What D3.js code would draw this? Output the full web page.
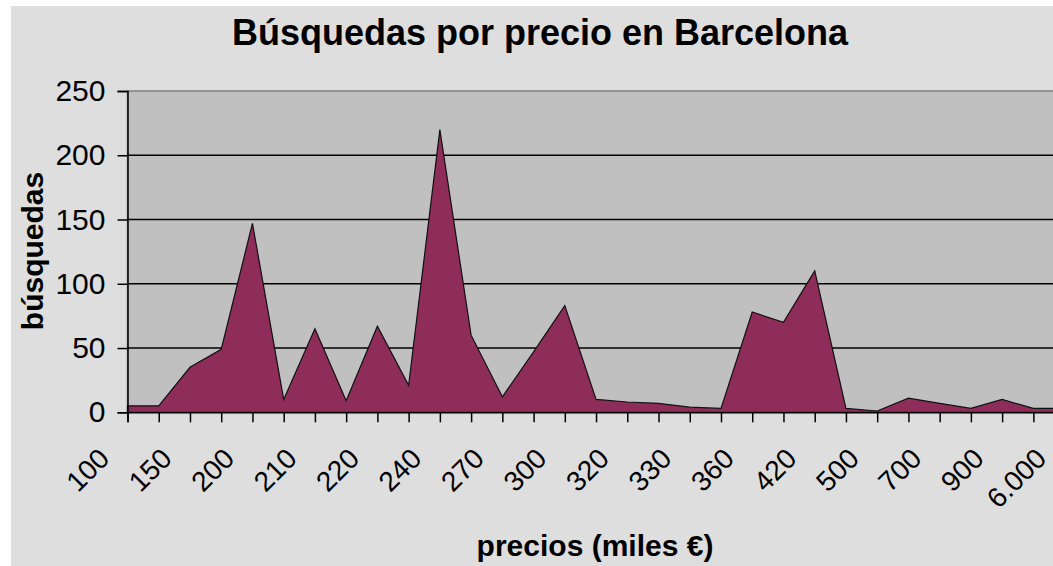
<!DOCTYPE html>
<html>
<head>
<meta charset="utf-8">
<script src="https://cdn.jsdelivr.net/npm/d3@7"></script>
<style>
  html, body { margin: 0; padding: 0; background: #fff; overflow: hidden; }
  text { font-family: "Liberation Sans", Arial, sans-serif; fill: #000; }
</style>
</head>
<body>
<svg id="chart" width="1053" height="566"></svg>
<script>
// busquedas por cada tramo de precio (miles de euros)
const tickLabels = ["100", "150", "200", "210", "220", "240", "270", "300",
                    "320", "330", "360", "420", "500", "700", "900", "6.000"];
const values = [5, 5, 35, 49, 147, 10, 65, 9, 67, 21, 220, 60, 12, 47, 83, 10,
                8, 7, 4, 3, 78, 70, 110, 3, 1, 11, 7, 3, 10, 3, 3];
const yTicks = [0, 50, 100, 150, 200, 250];

const svg = d3.select("#chart");

// fondo gris del grafico (hay un margen blanco arriba y a la izquierda)
svg.append("rect")
  .attr("x", 11).attr("y", 6)
  .attr("width", 1042).attr("height", 560)
  .attr("fill", "#dedede");

const plotLeft = 127.5, plotTop = 91, plotBottom = 412.3, plotRight = 1064.6;

const x = d3.scalePoint()
  .domain(d3.range(values.length))
  .range([plotLeft, plotRight]);

const y = d3.scaleLinear()
  .domain([0, 250])
  .range([plotBottom, plotTop]);

// area del grafico
svg.append("rect")
  .attr("x", plotLeft).attr("y", plotTop)
  .attr("width", plotRight - plotLeft).attr("height", plotBottom - plotTop)
  .attr("fill", "#c0c0c0")
  .attr("stroke", "#808080")
  .attr("stroke-width", 1.5);

// lineas de division
svg.append("g")
  .selectAll("line")
  .data(yTicks.filter(d => d > 0 && d < 250))
  .enter()
  .append("line")
  .attr("x1", plotLeft).attr("x2", plotRight)
  .attr("y1", d => y(d)).attr("y2", d => y(d))
  .attr("stroke", "#000")
  .attr("stroke-width", 1.5);

const area = d3.area()
  .x((d, i) => x(i))
  .y0(y(0))
  .y1(d => y(d));

svg.append("path")
  .datum(values)
  .attr("d", area)
  .attr("fill", "#8e2d5a")
  .attr("stroke", "#111")
  .attr("stroke-width", 1.2);

// eje Y
const yAxis = svg.append("g")
  .attr("transform", "translate(" + plotLeft + ",0)")
  .call(d3.axisLeft(y).tickValues(yTicks).tickSize(10).tickPadding(12));
yAxis.select(".domain").attr("stroke", "#000").attr("stroke-width", 1.5);
yAxis.selectAll(".tick line").attr("stroke", "#000").attr("stroke-width", 1.5);
yAxis.selectAll("text")
  .attr("font-size", 30)
  .attr("font-family", "Liberation Sans, Arial, sans-serif")
  .attr("fill", "#000");

// eje X
const xAxis = svg.append("g")
  .attr("transform", "translate(0," + plotBottom + ")")
  .call(d3.axisBottom(x)
    .tickSize(10)
    .tickFormat(i => i % 2 === 0 ? tickLabels[i / 2] : ""));
xAxis.select(".domain").attr("stroke", "#000").attr("stroke-width", 1.5);
xAxis.selectAll(".tick line").attr("stroke", "#000").attr("stroke-width", 1.5);
xAxis.selectAll("text")
  .attr("font-size", 28)
  .attr("font-family", "Liberation Sans, Arial, sans-serif")
  .attr("fill", "#000")
  .attr("text-anchor", "end")
  .attr("x", 0).attr("y", 0).attr("dy", 0)
  .attr("transform", "translate(-17,48) rotate(-45)");

// titulos
svg.append("text")
  .attr("x", 540).attr("y", 45)
  .attr("text-anchor", "middle")
  .attr("font-size", 36)
  .attr("font-weight", "bold")
  .text("Búsquedas por precio en Barcelona");

svg.append("text")
  .attr("x", 595).attr("y", 556)
  .attr("text-anchor", "middle")
  .attr("font-size", 30)
  .attr("font-weight", "bold")
  .text("precios (miles €)");

svg.append("text")
  .attr("transform", "translate(43,251) rotate(-90)")
  .attr("text-anchor", "middle")
  .attr("font-size", 30)
  .attr("font-weight", "bold")
  .text("búsquedas");
</script>
</body>
</html>
